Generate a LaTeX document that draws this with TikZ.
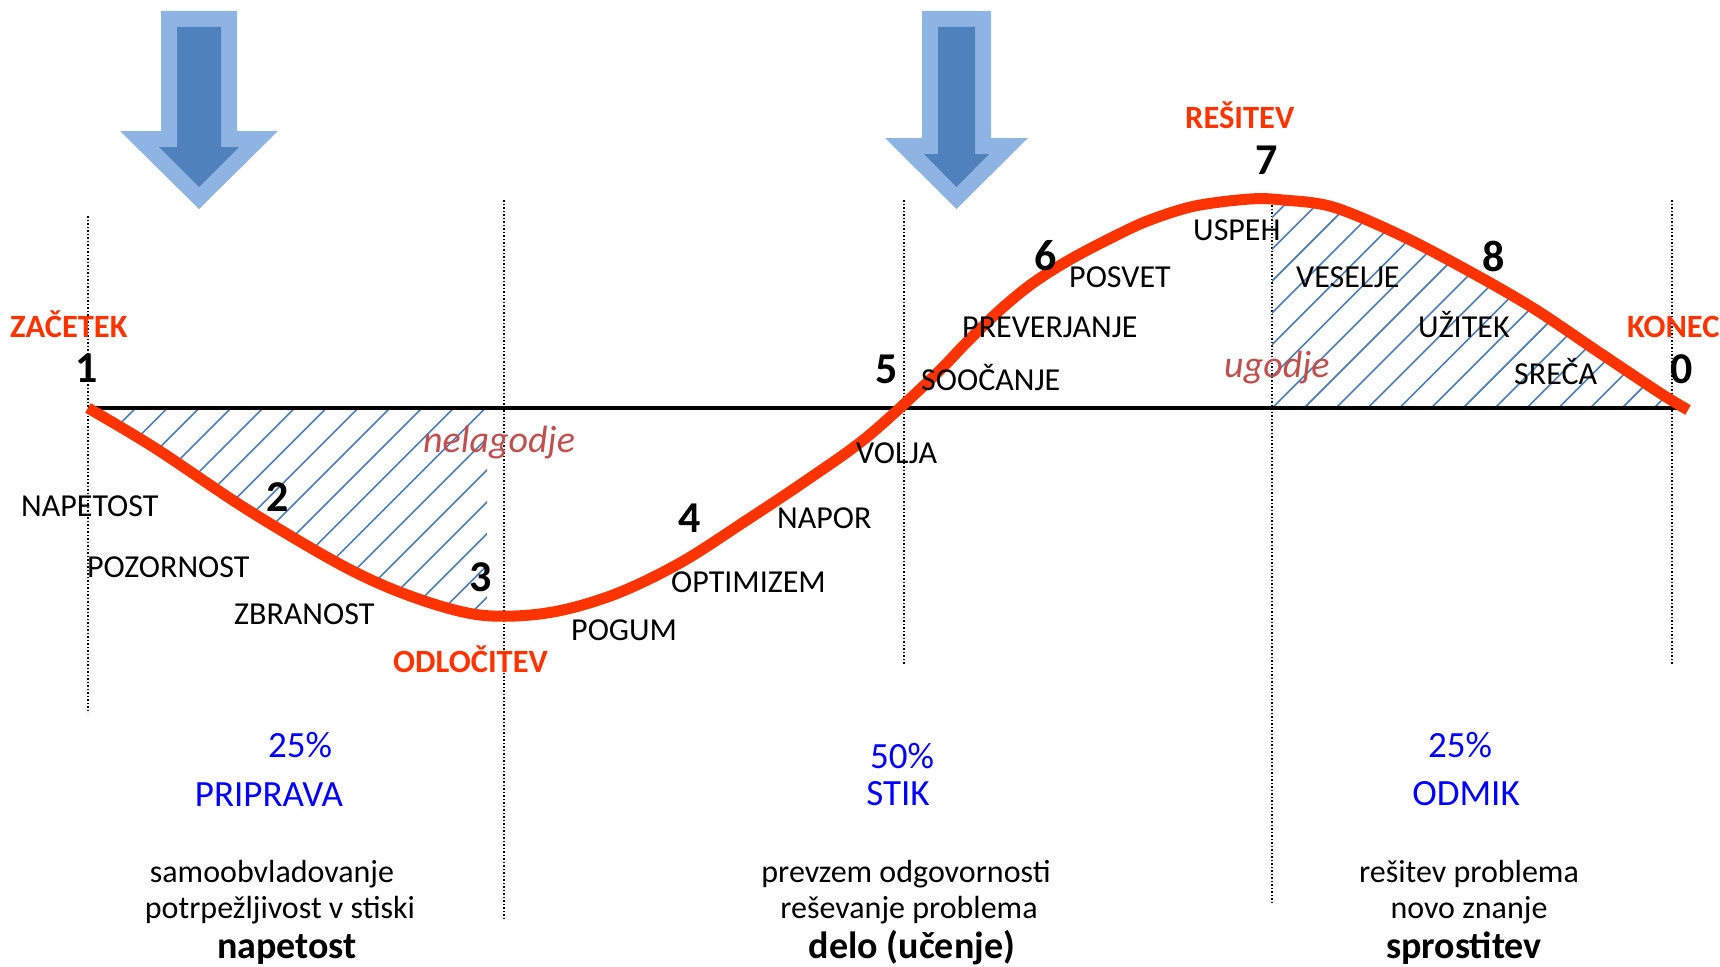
\documentclass[tikz,border=0pt]{standalone}
\usepackage{fontspec}
\setmainfont{Carlito}
\definecolor{curvered}{RGB}{255,51,0}
\definecolor{moodred}{RGB}{192,80,77}
\definecolor{phaseblue}{RGB}{0,0,255}
\definecolor{hatchblue}{RGB}{74,126,187}
\definecolor{arrowlight}{RGB}{141,180,226}
\definecolor{arrowdark}{RGB}{79,129,189}
\begin{document}
\begin{tikzpicture}[x=1pt,y=-1pt,
  lbl/.style={inner sep=0pt, anchor=base west, font=\fontsize{32}{38}\selectfont},
  num/.style={inner sep=0pt, anchor=base west, font=\fontsize{44}{50}\selectfont\bfseries},
  redlbl/.style={inner sep=0pt, anchor=base west, text=curvered, font=\fontsize{32.5}{38}\selectfont\bfseries},
  mood/.style={inner sep=0pt, anchor=base west, text=moodred, font=\fontsize{38}{44}\selectfont\itshape},
  pct/.style={inner sep=0pt, anchor=base, text=phaseblue, font=\fontsize{37}{43}\selectfont},
  desc/.style={inner sep=0pt, anchor=base, font=\fontsize{32}{38}\selectfont},
  keyword/.style={inner sep=0pt, anchor=base, font=\fontsize{38}{45}\selectfont\bfseries},
  guide/.style={line width=1.6pt, dash pattern=on 1.6pt off 1.9pt},
  hatch/.style={draw=hatchblue, line width=1.6pt},
]
\useasboundingbox (0,0) rectangle (1720,966);

% the wave through the phases
\path[save path=\wavecurve] plot[smooth, tension=0.55] coordinates {
  (88,408) (155,448) (248,510) (345,567) (413,597) (480,615) (547,613)
  (613,595) (680,563) (747,520) (807,480) (867,437) (933,377) (967,342)
  (1000,310) (1033,283) (1071,259) (1117,235) (1150,220) (1195,206)
  (1250,199) (1283,200) (1333,207) (1400,235) (1467,270) (1533,308)
  (1600,353) (1660,393) (1688,410)};

% block arrows
\fill[arrowlight] (161,11) -- (237,11) -- (237,131) -- (278,131) -- (199,209) -- (120,131) -- (161,131) -- cycle;
\fill[arrowdark] (177,27) -- (221,27) -- (221,147) -- (239,147) -- (199,187) -- (159,147) -- (177,147) -- cycle;
\fill[arrowlight] (922,11) -- (991,11) -- (991,138) -- (1028,138) -- (956.5,209) -- (885,138) -- (922,138) -- cycle;
\fill[arrowdark] (938,27) -- (975,27) -- (975,154) -- (989,154) -- (956.5,187) -- (924,154) -- (938,154) -- cycle;

% phase boundaries
\draw[guide] (88,216) -- (88,713);
\draw[guide] (504,200) -- (504,918);
\draw[guide] (904,200) -- (904,664);
\draw[guide] (1272,205) -- (1272,903);
\draw[guide] (1672,200) -- (1672,664);

% hatched areas between wave and axis
\begin{scope}
  \clip (88,408) rectangle (487,700);
  \clip[use path=\wavecurve];
  \foreach \k in {0,...,18}
    \draw[hatch] ({543.7+31.8*\k-380},380) -- ({543.7+31.8*\k-720},720);
\end{scope}
\begin{scope}
  \clip (1272,150) rectangle (1720,408);
  \clip[use path=\wavecurve];
  \foreach \k in {-8,...,14}
    \draw[hatch] ({1680.3+31.8*\k-150},150) -- ({1680.3+31.8*\k-430},430);
\end{scope}

% axis and wave
\draw[line width=3.5pt] (88,408) -- (1684,408);
\draw[curvered, line width=11pt, use path=\wavecurve];

% labels along the wave
\node[redlbl] (zacetek) at (10,337) {ZAČETEK};
\node[num] (n1) at (75,382) {1};
\node[lbl] (napetost) at (21,516) {NAPETOST};
\node[num] (n2) at (266,511) {2};
\node[lbl] (pozornost) at (87,577) {POZORNOST};
\node[lbl] (zbranost) at (234,624) {ZBRANOST};
\node[num] (n3) at (469,591) {3};
\node[redlbl] (odlocitev) at (393,672) {ODLOČITEV};
\node[mood] (nelagodje) at (423,452) {nelagodje};
\node[lbl] (pogum) at (571,640) {POGUM};
\node[num] (n4) at (678,532) {4};
\node[lbl] (optimizem) at (671,592) {OPTIMIZEM};
\node[lbl] (napor) at (777,528) {NAPOR};
\node[lbl] (volja) at (856,463) {VOLJA};
\node[num] (n5) at (875,383) {5};
\node[lbl] (soocanje) at (921,390) {SOOČANJE};
\node[lbl] (preverjanje) at (962,337) {PREVERJANJE};
\node[num] (n6) at (1034,270) {6};
\node[lbl] (posvet) at (1069,287) {POSVET};
\node[lbl] (uspeh) at (1193,240) {USPEH};
\node[redlbl] (resitev) at (1185,128) {REŠITEV};
\node[num] (n7) at (1255,174) {7};
\node[lbl] (veselje) at (1296,287) {VESELJE};
\node[num] (n8) at (1482,271) {8};
\node[lbl] (uzitek) at (1418,337) {UŽITEK};
\node[lbl] (sreca) at (1514,384) {SREČA};
\node[mood] (ugodje) at (1224,377) {ugodje};
\node[redlbl] (konec) at (1627,337) {KONEC};
\node[num] (n0) at (1670,383) {0};

% phase captions
\node[pct] (pcta) at (300,757) {25\%};
\node[pct] (phasea) at (269,806) {PRIPRAVA};
\node[pct] (pctb) at (902,768) {50\%};
\node[pct] (phaseb) at (898,805) {STIK};
\node[pct] (pctc) at (1460,757) {25\%};
\node[pct] (phasec) at (1466,805) {ODMIK};

\node[desc] (da1) at (272,882) {samoobvladovanje};
\node[desc] (da2) at (280,918) {potrpežljivost v stiski};
\node[keyword] (da3) at (287,958) {napetost};
\node[desc] (db1) at (906,882) {prevzem odgovornosti};
\node[desc] (db2) at (909,918) {reševanje problema};
\node[keyword] (db3) at (912,958) {delo (učenje)};
\node[desc] (dc1) at (1469,882) {rešitev problema};
\node[desc] (dc2) at (1469,918) {novo znanje};
\node[keyword] (dc3) at (1464,958) {sprostitev};
\end{tikzpicture}
\end{document}
